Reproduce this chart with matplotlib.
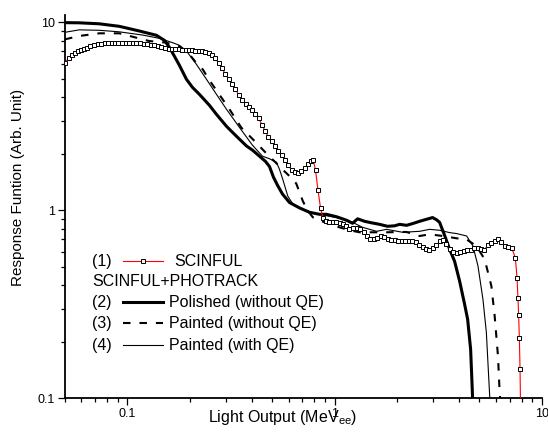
import matplotlib
matplotlib.use("Agg")
import matplotlib.pyplot as plt
from matplotlib.ticker import LogLocator, NullFormatter

plt.rcParams['font.family'] = ['Liberation Sans', 'DejaVu Sans']
plt.rcParams['mathtext.fontset'] = 'custom'
plt.rcParams['mathtext.rm'] = 'Liberation Sans'

# (1) SCINFUL
scinful_x = [0.050, 0.052, 0.054, 0.056, 0.058, 0.060, 0.062, 0.064, 0.066, 0.069,
             0.072, 0.075, 0.078, 0.081, 0.084, 0.087, 0.090, 0.094, 0.098, 0.102,
             0.106, 0.110, 0.115, 0.120, 0.125, 0.130, 0.135, 0.140, 0.146, 0.152,
             0.158, 0.164, 0.170, 0.177, 0.184, 0.191, 0.198, 0.205, 0.213, 0.221,
             0.229, 0.238, 0.247, 0.256, 0.266, 0.276, 0.286, 0.297, 0.308, 0.320,
             0.332, 0.345, 0.358, 0.372, 0.386, 0.400, 0.415, 0.430, 0.446, 0.463,
             0.480, 0.498, 0.517, 0.536, 0.556, 0.577, 0.598, 0.620, 0.643, 0.667,
             0.692, 0.718, 0.745, 0.773, 0.790, 0.810, 0.831, 0.856,
             0.880, 0.910, 0.945, 0.980, 1.02, 1.06, 1.10, 1.14, 1.18, 1.23,
             1.28, 1.33, 1.38, 1.43, 1.49, 1.55, 1.61, 1.67, 1.74, 1.81,
             1.88, 1.95, 2.03, 2.11, 2.19, 2.28, 2.37, 2.46, 2.56, 2.66,
             2.76, 2.87, 2.98, 3.10, 3.22, 3.34, 3.47, 3.61, 3.75, 3.90,
             4.05, 4.21, 4.37, 4.54, 4.72, 4.90, 5.09, 5.29, 5.49, 5.70,
             5.92, 6.15, 6.39, 6.64, 6.90, 7.17,
             7.46, 7.60, 7.68, 7.74, 7.80, 7.86, 7.90]
scinful_y = [6.05, 6.48, 6.72, 6.90, 7.01, 7.13, 7.23, 7.34, 7.44, 7.55,
             7.64, 7.70, 7.72, 7.74, 7.76, 7.78, 7.79, 7.80, 7.80, 7.80,
             7.78, 7.77, 7.74, 7.71, 7.68, 7.62, 7.56, 7.48, 7.40, 7.32,
             7.25, 7.20, 7.18, 7.17, 7.15, 7.13, 7.11, 7.10, 7.07, 7.04,
             7.01, 6.97, 6.88, 6.72, 6.44, 6.05, 5.69, 5.32, 4.98, 4.68,
             4.40, 4.12, 3.87, 3.66, 3.53, 3.40, 3.26, 3.09, 2.85, 2.63,
             2.45, 2.33, 2.19, 2.07, 1.96, 1.85, 1.74, 1.64, 1.59, 1.58,
             1.62, 1.68, 1.76, 1.83, 1.85, 1.63, 1.29, 1.03,
             0.907, 0.879, 0.869, 0.863, 0.863, 0.858, 0.848, 0.822, 0.797, 0.802,
             0.807, 0.792, 0.764, 0.732, 0.705, 0.701, 0.710, 0.727, 0.718, 0.701,
             0.697, 0.693, 0.690, 0.688, 0.688, 0.688, 0.687, 0.676, 0.651, 0.636,
             0.626, 0.617, 0.628, 0.651, 0.684, 0.693, 0.664, 0.620, 0.598, 0.590,
             0.602, 0.609, 0.613, 0.617, 0.628, 0.633, 0.624, 0.617, 0.651, 0.672,
             0.688, 0.705, 0.680, 0.648, 0.636, 0.628,
             0.560, 0.439, 0.343, 0.277, 0.208, 0.144, 0.093]

# (2) Polished (without QE)
polished_x = [0.050, 0.0586, 0.0732, 0.0915, 0.1143, 0.1381, 0.1509, 0.1596, 0.1687, 0.1783,
              0.1928, 0.2061, 0.2227, 0.2489, 0.2692, 0.3008, 0.3216, 0.3476, 0.3757, 0.4017,
              0.4343, 0.4642, 0.4853, 0.5074, 0.5305, 0.5608, 0.6062, 0.6774, 0.7572, 0.8465,
              0.9148, 1.023, 1.143, 1.222, 1.292, 1.396, 1.509, 1.650, 1.803, 1.950,
              2.061, 2.228, 2.408, 2.574, 2.783, 2.974, 3.110, 3.215, 3.399, 3.594,
              3.799, 4.018, 4.246, 4.391, 4.539, 4.642, 4.70]
polished_y = [9.96, 9.94, 9.82, 9.52, 8.99, 8.53, 8.02, 7.36, 6.60, 5.91,
              4.98, 4.51, 4.14, 3.62, 3.24, 2.80, 2.60, 2.39, 2.20, 2.09,
              1.94, 1.82, 1.71, 1.50, 1.36, 1.22, 1.10, 1.03, 0.976, 0.952,
              0.952, 0.924, 0.885, 0.853, 0.901, 0.874, 0.858, 0.842, 0.822, 0.827,
              0.842, 0.832, 0.853, 0.874, 0.896, 0.915, 0.890, 0.863, 0.736, 0.620,
              0.535, 0.419, 0.316, 0.263, 0.182, 0.099, 0.09]

# (3) Painted (without QE)
painted_x = [0.050, 0.0586, 0.0732, 0.0915, 0.1102, 0.1277, 0.1538, 0.1783, 0.1993, 0.2147,
             0.2311, 0.2489, 0.2783, 0.3110, 0.3543, 0.4184, 0.4490, 0.4853, 0.5188, 0.5608,
             0.6062, 0.6531, 0.6774, 0.7030, 0.7406, 0.7856, 0.8465, 0.9459, 1.057, 1.181,
             1.321, 1.476, 1.777, 2.220, 2.574, 2.877, 3.335, 3.872, 4.328, 4.836,
             5.305, 5.715, 5.929, 6.151, 6.268, 6.34]
painted_y = [8.12, 8.46, 8.74, 8.74, 8.29, 7.95, 7.80, 7.45, 6.76, 6.10,
             5.62, 4.92, 4.12, 3.45, 2.76, 2.29, 2.11, 1.93, 1.80, 1.65,
             1.52, 1.39, 1.25, 1.12, 1.00, 0.918, 0.885, 0.842, 0.812, 0.783,
             0.764, 0.764, 0.764, 0.767, 0.730, 0.745, 0.730, 0.710, 0.701, 0.646,
             0.549, 0.396, 0.274, 0.168, 0.107, 0.093]

# (4) Painted (with QE)
painted_qe_x = [0.050, 0.0586, 0.0732, 0.0915, 0.1182, 0.1428, 0.1650, 0.1783, 0.1928, 0.2154,
                0.2408, 0.2692, 0.3008, 0.3476, 0.4017, 0.4490, 0.4853, 0.5246, 0.5425, 0.5627,
                0.5949, 0.6290, 0.7030, 0.7856, 0.8948, 1.057, 1.222, 1.365, 1.596, 1.783,
                2.131, 2.574, 2.877, 3.215, 3.594, 3.885, 4.343, 4.657, 4.924, 5.205,
                5.406, 5.609, 5.67]
painted_qe_y = [8.85, 9.12, 9.07, 8.90, 8.56, 8.22, 7.80, 7.55, 7.04, 5.98,
                4.98, 4.14, 3.45, 2.76, 2.22, 1.94, 1.88, 1.80, 1.65, 1.46,
                1.19, 1.08, 1.01, 0.972, 0.941, 0.907, 0.863, 0.812, 0.773, 0.792,
                0.764, 0.773, 0.792, 0.783, 0.761, 0.752, 0.730, 0.646, 0.506, 0.336,
                0.224, 0.103, 0.093]

tick_vals = [0.1, 1, 10]
tick_text = ['0.1', '1', '10']

dash = (0, (3.6, 4.3))
leg_fs = 11.5

fig = plt.figure(figsize=(5.48, 4.37), dpi=100)
ax = fig.add_axes([0.1186, 0.0886, 0.8699, 0.8771])

ax.plot(polished_x, polished_y, color='black', lw=2.2)
ax.plot(painted_x, painted_y, color='black', lw=1.5, ls=dash)
ax.plot(painted_qe_x, painted_qe_y, color='black', lw=0.8)
ax.plot(scinful_x, scinful_y, color='red', lw=0.8, marker='s', ms=3.3,
        mfc='white', mec='black', mew=0.7, zorder=5)

ax.set_xscale('log')
ax.set_yscale('log')
ax.set_xlim(0.05, 10)
ax.set_ylim(0.1, 10.94)

for axis in (ax.xaxis, ax.yaxis):
    axis.set_major_locator(plt.FixedLocator(tick_vals))
    axis.set_major_formatter(plt.FixedFormatter(tick_text))
    axis.set_minor_locator(LogLocator(base=10, subs=range(2, 10)))
    axis.set_minor_formatter(NullFormatter())

ax.tick_params(which='major', direction='out', length=5, width=0.9, labelsize=9, pad=2)
ax.tick_params(which='minor', direction='out', length=3, width=0.9)
ax.spines['top'].set_visible(False)
ax.spines['right'].set_visible(False)
ax.spines['left'].set_linewidth(1.3)
ax.spines['bottom'].set_linewidth(1.3)

ax.set_xlabel('Light Output (MeV$_{\\mathrm{ee}}$)', fontsize=11.5, va='center')
ax.xaxis.set_label_coords(0.456, -0.05)
ax.set_ylabel('Response Funtion (Arb. Unit)', fontsize=11, va='center')
ax.yaxis.set_label_coords(-0.0985, 0.549)

# legend, drawn by hand to keep the numbered layout
rows = [0.358, 0.304, 0.2505, 0.1957, 0.139]
num_x, h0, h1, lab_x = 0.0572, 0.121, 0.206, 0.2187
tr = ax.transAxes

ax.text(num_x, rows[0], '(1)', transform=tr, fontsize=leg_fs, va='center')
ax.plot([h0, h1], [rows[0], rows[0]], transform=tr, color='red', lw=0.8)
ax.plot([(h0 + h1) / 2], [rows[0]], transform=tr, marker='s', ms=3.3,
        mfc='white', mec='black', mew=0.7)
ax.text(0.2285, rows[0], 'SCINFUL', transform=tr, fontsize=leg_fs, va='center')

ax.text(num_x, rows[1], 'SCINFUL+PHOTRACK', transform=tr, fontsize=leg_fs, va='center')

entries = [('(2)', 'Polished (without QE)', dict(lw=2.2, ls='-')),
           ('(3)', 'Painted (without QE)', dict(lw=1.5, ls=dash)),
           ('(4)', 'Painted (with QE)', dict(lw=0.8, ls='-'))]
for yy, (num, lab, style) in zip(rows[2:], entries):
    ax.text(num_x, yy, num, transform=tr, fontsize=leg_fs, va='center')
    ax.plot([h0, h1], [yy, yy], transform=tr, color='black', **style)
    ax.text(lab_x, yy, lab, transform=tr, fontsize=leg_fs, va='center')

fig.savefig('out.png', dpi=100)
